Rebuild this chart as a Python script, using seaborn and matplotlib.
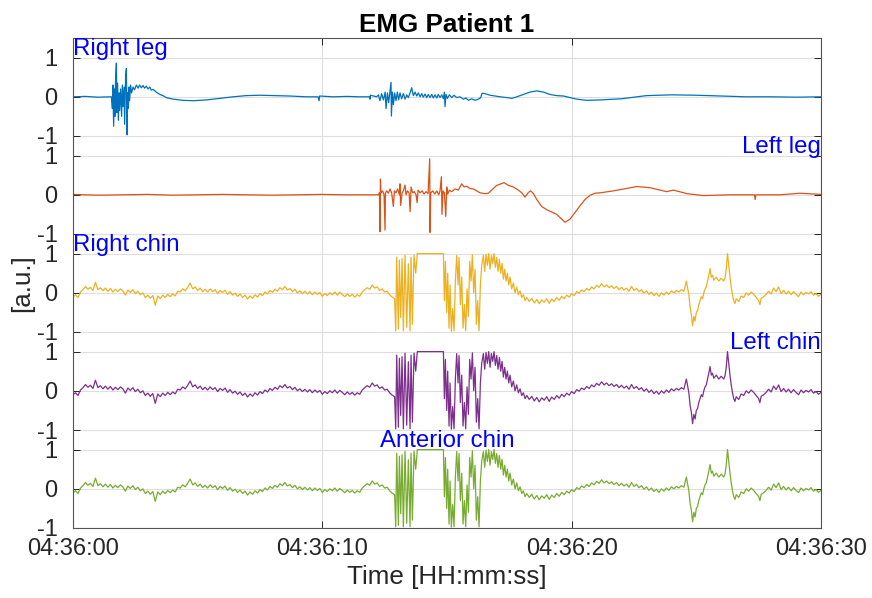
import numpy as np
import pandas as pd
import matplotlib
matplotlib.use("Agg")
import matplotlib.pyplot as plt
import matplotlib.dates as mdates
import matplotlib.transforms as mtransforms
import seaborn as sns

# ---------------- data (seconds after 04:36:00, amplitude in a.u.) ----------------
channel_names = ["Right leg", "Left leg", "Right chin", "Left chin", "Anterior chin"]
channel_colors = ["#0072BD", "#D95319", "#EDB120", "#7E2F8E", "#77AC30"]
ytick_labels = ["1", "0", "-1"]
xtick_seconds = [0, 10, 20, 30]

right_leg_t = [0.0, 0.5, 1.0, 1.5, 1.54, 1.58, 1.60, 1.63, 1.66, 1.68, 1.71, 1.74, 1.76, 1.79,
               1.82, 1.85, 1.87, 1.91, 1.95, 1.98, 2.01, 2.05, 2.07, 2.11, 2.14, 2.17, 2.19,
               2.22, 2.25, 2.27, 2.31, 2.35, 2.41, 2.47, 2.54, 2.61, 2.67, 2.74, 2.81, 2.87,
               2.94, 3.01, 3.08, 3.14, 3.21, 3.34, 3.48, 3.61, 3.74, 4.01, 4.41, 4.81, 5.35,
               5.88, 6.42, 6.95, 7.49, 8.02, 8.69, 9.36, 9.83, 9.87, 9.89, 10.43, 11.0, 11.5,
               11.9, 11.91, 11.93, 12.18, 12.25, 12.31, 12.38, 12.45, 12.52, 12.555, 12.61,
               12.66, 12.715, 12.755, 12.77, 12.81, 12.85, 12.9, 12.956, 13.01, 13.06, 13.116,
               13.18, 13.25, 13.32, 13.384, 13.45, 13.52, 13.584, 13.65, 13.72, 13.785, 13.85,
               13.92, 13.985, 14.05, 14.12, 14.19, 14.25, 14.32, 14.39, 14.45, 14.52, 14.59,
               14.65, 14.72, 14.79, 14.855, 14.895, 14.92, 14.96, 15.015, 15.095, 15.19,
               15.28, 15.39, 15.52, 15.66, 15.76, 15.86, 15.99, 16.125, 16.26, 16.35, 16.405,
               16.525, 16.73, 16.93, 17.13, 17.4, 17.6, 17.8, 18.06, 18.33, 18.6, 18.87,
               19.13, 19.4, 19.67, 19.94, 20.2, 20.6, 21.14, 22.0, 23.0, 24.0, 25.0, 26.0,
               27.0, 28.0, 29.0, 30.0]
right_leg_v = [0.0, 0.01, -0.01, 0.0, 0.0, -0.3, 0.3, -0.75, 0.2, -0.5, 0.5, 0.86, -0.4, 0.35,
               -0.6, 0.1, -0.35, 0.2, -0.5, 0.3, -0.25, 0.25, -0.7, 0.5, 0.72, -0.97, 0.1,
               -0.3, 0.25, -0.1, 0.3, 0.1, 0.25, 0.18, 0.3, 0.22, 0.3, 0.23, 0.29, 0.22,
               0.27, 0.2, 0.25, 0.17, 0.19, 0.12, 0.06, 0.03, -0.02, -0.06, -0.09, -0.1, -0.08,
               -0.04, 0.0, 0.03, 0.04, 0.03, 0.02, 0.0, 0.0, -0.1, 0.02, 0.0, 0.01, 0.0,
               0.0, -0.06, 0.04, 0.0, 0.05, -0.1, 0.08, -0.08, 0.12, -0.3, 0.1,
               -0.15, 0.15, 0.37, -0.49, 0.12, -0.2, 0.1, -0.1, 0.12, -0.08, 0.1,
               -0.05, 0.08, -0.06, 0.05, -0.02, 0.1, 0.23, 0.03, 0.12, 0.02, 0.1,
               0.0, 0.08, -0.01, 0.07, -0.02, 0.06, -0.02, 0.06, -0.03, 0.05, -0.03,
               0.06, -0.02, 0.05, -0.05, 0.12, -0.25, 0.06, -0.04, 0.05, -0.02,
               0.04, -0.02, 0.0, -0.06, -0.03, -0.09, -0.05, -0.09, -0.06, -0.02, 0.09,
               0.08, 0.04, 0.02, 0.0, -0.02, -0.04, 0.0, 0.06, 0.12, 0.15, 0.12,
               0.06, 0.03, 0.02, -0.02, -0.06, -0.09, -0.08, -0.05, 0.03, 0.05, 0.04, 0.02,
               0.0, 0.0, -0.01, 0.0]

left_leg_t = [0.0, 1.0, 2.0, 3.0, 4.0, 5.0, 6.0, 7.0, 8.0, 9.0, 10.0, 11.0, 12.0, 12.25,
              12.29, 12.315, 12.33, 12.355, 12.42, 12.475, 12.515, 12.53, 12.58, 12.65,
              12.715, 12.78, 12.85, 12.89, 12.956, 13.02, 13.09, 13.116, 13.14, 13.2, 13.25,
              13.317, 13.357, 13.41, 13.48, 13.52, 13.56, 13.625, 13.69, 13.76, 13.8, 13.84,
              13.92, 14.0, 14.08, 14.16, 14.24, 14.306, 14.32, 14.347, 14.43, 14.51, 14.59,
              14.67, 14.72, 14.775, 14.8, 14.84, 14.895, 14.95, 14.99, 15.03, 15.095, 15.19,
              15.32, 15.456, 15.59, 15.685, 15.79, 15.924, 16.06, 16.19, 16.325, 16.525,
              16.66, 16.79, 16.994, 17.29, 17.46, 17.66, 17.86, 18.0, 18.13, 18.264, 18.36,
              18.465, 18.6, 18.8, 19.0, 19.2, 19.4, 19.6, 19.735, 19.935, 20.136, 20.336,
              20.536, 20.74, 20.94, 21.14, 21.67, 22.61, 23.15, 23.81, 24.08, 24.62, 25.28,
              26.35, 27.33, 27.36, 27.39, 28.36, 29.16, 30.0]
left_leg_v = [0.01, -0.01, 0.0, 0.01, -0.01, 0.0, 0.01, 0.0, -0.01, 0.0, 0.01, 0.0, 0.0, 0.0,
              0.05, -0.94, 0.4, 0.05, 0.1, 0.0, -0.9, 0.05, 0.1, 0.04,
              0.15, 0.05, -0.3, 0.1, 0.05, 0.15, 0.0, 0.28, -0.27, 0.05, 0.1,
              0.25, 0.0, 0.1, 0.05, -0.43, 0.2, 0.05, 0.08, 0.0, -0.2, 0.12,
              0.05, 0.1, 0.02, 0.08, 0.03, 0.92, -0.96, 0.05, 0.1, 0.02, 0.1,
              0.0, 0.1, 0.46, -0.5, 0.1, 0.05, -0.55, 0.2, 0.02, 0.12, 0.08,
              0.15, 0.12, 0.28, 0.2, 0.22, 0.16, 0.15, 0.1, 0.05, 0.03,
              0.04, 0.12, 0.24, 0.31, 0.24, 0.2, 0.12, 0.05, -0.06, 0.06, 0.1,
              0.03, -0.12, -0.3, -0.38, -0.44, -0.5, -0.62, -0.7, -0.62, -0.45, -0.28,
              -0.12, -0.01, 0.04, 0.05, 0.1, 0.21, 0.18, 0.08, 0.12, 0.03, -0.02,
              0.0, 0.0, -0.12, 0.0, 0.0, 0.04, 0.01]

chin_t = [0.0, 0.1, 0.2, 0.3, 0.4, 0.5, 0.6, 0.7, 0.8, 0.9, 1.0, 1.1, 1.2, 1.3, 1.4, 1.5, 1.6,
          1.7, 1.8, 1.9, 2.0, 2.1, 2.2, 2.3, 2.4, 2.5, 2.6, 2.7, 2.8, 2.9, 3.0, 3.1, 3.2, 3.3,
          3.4, 3.5, 3.6, 3.7, 3.8, 3.9, 4.0, 4.1, 4.2, 4.3, 4.4, 4.5, 4.6, 4.7, 4.8, 4.9, 5.0,
          5.1, 5.2, 5.3, 5.4, 5.5, 5.6, 5.7, 5.8, 5.9, 6.0, 6.1, 6.2, 6.3, 6.4, 6.5, 6.6, 6.7,
          6.8, 6.9, 7.0, 7.1, 7.2, 7.3, 7.4, 7.5, 7.6, 7.7, 7.8, 7.9, 8.0, 8.1, 8.2, 8.3, 8.4,
          8.5, 8.6, 8.7, 8.8, 8.9, 9.0, 9.1, 9.2, 9.3, 9.4, 9.5, 9.6, 9.7, 9.8, 9.9, 10.0,
          10.1, 10.2, 10.3, 10.4, 10.5, 10.6, 10.7, 10.8, 10.9, 11.0, 11.1, 11.2, 11.3, 11.4,
          11.5, 11.6, 11.7, 11.8, 11.9, 12.0, 12.1, 12.2, 12.3, 12.4, 12.5, 12.6, 12.7, 12.8,
          12.9,
          12.943, 12.983, 13.05, 13.09, 13.143, 13.197, 13.25, 13.317, 13.384, 13.45, 13.518,
          13.558, 13.611, 13.678, 13.745, 13.81, 14.855, 14.895, 14.935, 14.988, 15.028,
          15.082, 15.122, 15.175, 15.229, 15.282, 15.336, 15.389, 15.443, 15.483, 15.536,
          15.59, 15.643, 15.697, 15.75, 15.804, 15.857, 15.911, 15.964, 16.018, 16.071,
          16.125, 16.178, 16.232, 16.285, 16.339, 16.392, 16.459, 16.512, 16.566, 16.62,
          16.673, 16.726, 16.78, 16.833, 16.887, 16.94, 16.994, 17.047, 17.101, 17.154,
          17.208, 17.261, 17.315, 17.368, 17.422, 17.475, 17.528, 17.595, 17.662, 17.729,
          17.796, 17.863, 17.93, 17.997, 18.063, 18.13,
          18.2, 18.3, 18.4, 18.5, 18.6, 18.7, 18.8, 18.9, 19.0, 19.1, 19.2, 19.3, 19.4, 19.5,
          19.6, 19.7, 19.8, 19.9, 20.0, 20.1, 20.2, 20.3, 20.4, 20.5, 20.6, 20.7, 20.8, 20.9,
          21.0, 21.1, 21.2, 21.3, 21.4, 21.5, 21.6, 21.7, 21.8, 21.9, 22.0, 22.1, 22.2, 22.3,
          22.4, 22.5, 22.6, 22.7, 22.8, 22.9, 23.0, 23.1, 23.2, 23.3, 23.4, 23.5, 23.6, 23.7,
          23.8, 23.9, 24.0, 24.1, 24.2, 24.3, 24.4, 24.5, 24.6, 24.7, 24.75, 24.8, 24.85,
          24.9, 24.95, 25.0, 25.05, 25.1, 25.15, 25.2, 25.25, 25.3, 25.35, 25.4, 25.45, 25.5,
          25.55, 25.6, 25.65, 25.7, 25.8, 25.9, 26.0, 26.1, 26.15, 26.2, 26.25, 26.3, 26.35,
          26.4, 26.45, 26.5, 26.55, 26.6, 26.7, 26.8, 26.9, 27.0, 27.1, 27.2, 27.3, 27.4,
          27.5, 27.55, 27.6, 27.7, 27.8, 27.9, 28.0, 28.1, 28.2, 28.3, 28.4, 28.5, 28.6, 28.7,
          28.8, 28.9, 29.0, 29.1, 29.2, 29.3, 29.4, 29.5, 29.6, 29.7, 29.8, 29.9, 30.0]
right_chin_v = [-0.10, -0.05, -0.12, 0.02, 0.08, 0.16, 0.09, 0.14, 0.06, 0.27, 0.08, 0.13, 0.05,
                0.12, 0.04, 0.11, 0.02, 0.09, 0.03, 0.10, 0.05, -0.06, 0.07, 0.01, 0.08, -0.02,
                0.04, -0.05, 0.00, -0.12, -0.06, -0.14, -0.07, -0.32, -0.08, -0.15, -0.06,
                -0.12, -0.04, -0.10, -0.03, -0.08, 0.04, 0.02, 0.10, 0.05, 0.14, 0.25, 0.10,
                0.15, 0.06, 0.12, 0.03, 0.09, 0.02, 0.10, 0.03, 0.08, -0.02, 0.06, 0.01, 0.07,
                -0.04, 0.03, -0.06, -0.01, -0.09, -0.03, -0.12, -0.06, -0.16, -0.08, -0.14,
                -0.05, -0.11, -0.02, -0.07, 0.02, -0.03, 0.06, 0.01, 0.09, 0.04, 0.13, 0.08,
                0.16, 0.07, 0.11, 0.03, 0.09, 0.00, 0.05, -0.02, 0.04, -0.03, 0.03, -0.05,
                0.02, -0.04, 0.01, -0.09, -0.02, -0.07, 0.00, -0.05, 0.02, -0.06, 0.01, -0.04,
                -0.10, -0.03, -0.09, -0.04, -0.11, -0.05, -0.09, 0.02, 0.08, 0.13, 0.09, 0.20,
                0.12, 0.15, 0.06, 0.10, 0.02, 0.04, -0.05, -0.11, -0.15,
                -0.97, 0.91, -0.93, 0.83, -0.63, 0.87, -0.97, 0.96, -0.88, 0.74, -0.97,
                0.91, -0.80, 0.96, 0.50, 1.00, 1.00, -0.20, 0.80, -0.50, 0.50,
                -0.90, 0.20, -0.98, -0.40, -0.97, 0.30, 0.95, 0.20, 0.90, -0.30,
                0.40, -0.90, -0.30, -0.97, 0.10, -0.60, 0.80, 0.30, 0.97, 0.00,
                0.60, -0.80, -0.20, -0.97, 0.20, 0.70, 0.95, 0.55, 0.98, 0.70,
                1.00, 0.60, 0.95, 0.75, 1.00, 0.65, 0.90, 0.55, 0.85, 0.50,
                0.75, 0.35, 0.60, 0.30, 0.50, 0.20, 0.40, 0.10, 0.25, 0.00,
                0.15, -0.05, 0.05, -0.12, -0.05, -0.20,
                -0.12, -0.22, -0.14, -0.26, -0.17, -0.28, -0.18, -0.24, -0.15, -0.27, -0.16,
                -0.22, -0.12, -0.19, -0.09, -0.15, -0.06, -0.11, -0.02, -0.07, 0.03, -0.01,
                0.07, 0.03, 0.11, 0.06, 0.15, 0.10, 0.19, 0.14, 0.23, 0.15, 0.20, 0.13, 0.18,
                0.11, 0.16, 0.08, 0.14, 0.07, 0.12, 0.04, 0.16, 0.06, 0.11, 0.03, 0.08, -0.01,
                0.05, -0.04, 0.02, -0.07, -0.01, -0.09, 0.00, -0.06, 0.02, -0.04, 0.05, 0.00,
                0.06, 0.02, 0.08, 0.04, 0.30, -0.05, -0.37, -0.55, -0.84,
                -0.60, -0.72, -0.50, -0.45, -0.30, -0.20, -0.10, -0.15, 0.00, 0.10, 0.15, 0.30,
                0.45, 0.62, 0.40, 0.45, 0.32, 0.40, 0.30, 0.37, 0.30, 0.38, 0.60, 1.00, 0.70,
                0.40, 0.15, -0.05, -0.20, -0.27, -0.15, -0.22, -0.08, -0.12, 0.00, -0.06, 0.02,
                -0.04, -0.12, -0.20, -0.30, -0.14, -0.10, -0.04, 0.04, -0.03, 0.12, 0.03, 0.15,
                -0.02, 0.06, -0.03, 0.04, -0.05, 0.03, -0.04, -0.10, 0.02, -0.05, 0.01, -0.03,
                0.03, -0.06, -0.02, -0.09, -0.04]
left_chin_v = list(right_chin_v)       # traces read identical to the right chin
anterior_chin_v = list(right_chin_v)   # traces read identical to the right chin

# ---------------- style ----------------
sns.set_style("ticks")
plt.rcParams["font.family"] = ["Liberation Sans", "DejaVu Sans"]
plt.rcParams["axes.unicode_minus"] = False

start = pd.Timestamp("2021-01-01 04:36:00")
offsets = [0.0, -2.5, -5.0, -7.5, -10.0]
series = [(right_leg_t, right_leg_v), (left_leg_t, left_leg_v), (chin_t, right_chin_v),
          (chin_t, left_chin_v), (chin_t, anterior_chin_v)]

fig = plt.figure(figsize=(8.72, 5.98), dpi=100)
ax = fig.add_axes([73 / 872, 1 - 528 / 598, 748 / 872, 490 / 598])

for (t, v), off, col in zip(series, offsets, channel_colors):
    df = pd.DataFrame({"time": start + pd.to_timedelta(np.array(t), unit="s"),
                       "value": np.array(v) + off})
    sns.lineplot(data=df, x="time", y="value", ax=ax, color=col, linewidth=0.9,
                 estimator=None, sort=False)

x0 = mdates.date2num(start)
x1 = mdates.date2num(start + pd.Timedelta(seconds=30))
ax.set_xlim(x0, x1)
ax.set_ylim(-11.0, 1.5)

xt = [mdates.date2num(start + pd.Timedelta(seconds=s)) for s in xtick_seconds]
ax.set_xticks(xt)
ax.xaxis.set_major_formatter(mdates.DateFormatter("%H:%M:%S"))

yt, yl = [], []
for off in offsets:
    for val, lab in zip([1, 0, -1], ytick_labels):
        yt.append(off + val)
        yl.append(lab)
ax.set_yticks(yt)
ax.set_yticklabels(yl)

ax.grid(True, color="#dedede", linewidth=0.8)
ax.set_axisbelow(True)
ax.tick_params(axis="both", direction="in", length=5, width=0.7, top=True, right=True,
               labelsize=17, colors="#262626")
ax.tick_params(axis="y", pad=11)
ax.tick_params(axis="x", pad=7)
for s in ax.spines.values():
    s.set_color("#555555")
    s.set_linewidth(0.8)

ax.set_title("EMG Patient 1", fontsize=18.7, fontweight="bold", pad=4, color="black")
ax.set_xlabel("Time [HH:mm:ss]", fontsize=18.7, labelpad=4, color="#262626")
ax.set_ylabel("[a.u.]", fontsize=18.7, labelpad=2, color="#262626")

trans = mtransforms.blended_transform_factory(ax.transAxes, ax.transData)
label_pos = [(0.0, "left"), (1.0, "right"), (0.0, "left"), (1.0, "right"), (0.5, "center")]
for name, off, (xp, ha) in zip(channel_names, offsets, label_pos):
    ax.text(xp, off + 1.5, name, transform=trans, ha=ha, va="top", color="blue",
            fontsize=17.3)

fig.savefig("out.png", dpi=100)
